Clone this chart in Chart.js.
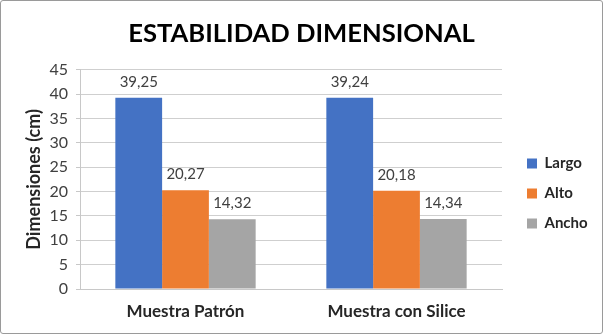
<!DOCTYPE html>
<html><head><meta charset="utf-8">
<script src="https://cdn.jsdelivr.net/npm/chart.js@4/dist/chart.umd.min.js"></script>
<style>
html,body{margin:0;padding:0;background:#fff;}
#wrap{position:relative;width:603px;height:334px;}
#frame{position:absolute;left:0;top:0;width:603px;height:334px;box-sizing:border-box;border:1px solid #9a9a9a;border-radius:3px;pointer-events:none;}
canvas{display:block;}
</style></head><body>
<div id="wrap"><canvas id="c" width="603" height="334"></canvas><div id="frame"></div></div>
<script>
const categories = ['Muestra Patrón', 'Muestra con Silice'];
const seriesNames = ['Largo', 'Alto', 'Ancho'];
const largo = [39.25, 39.24];
const alto = [20.27, 20.18];
const ancho = [14.32, 14.34];
const seriesColors = ['#4472C4', '#ED7D31', '#A5A5A5'];
const yMin = 0, yMax = 45, yStep = 5;

const FONT = 'Lato, "Open Sans", sans-serif';

const valueLabels = {
  id: 'valueLabels',
  afterDatasetsDraw(chart) {
    const ctx = chart.ctx;
    ctx.save();
    ctx.font = '15px ' + FONT;
    ctx.fillStyle = '#404040';
    ctx.textAlign = 'center';
    ctx.textBaseline = 'middle';
    chart.data.datasets.forEach((ds, i) => {
      const meta = chart.getDatasetMeta(i);
      meta.data.forEach((bar, j) => {
        const txt = ds.data[j].toFixed(2).replace('.', ',');
        ctx.fillText(txt, bar.x, bar.y - 16);
      });
    });
    ctx.restore();
  }
};

const boxPlace = {
  id: 'boxPlace',
  afterLayout(chart) {
    const lg = chart.legend;
    if (lg) {
      lg.left = 512; lg.right = 603; lg.width = 91;
      lg.top = 141; lg.bottom = 334; lg.height = 193;
    }
    const tb = chart.titleBlock;
    if (tb) {
      tb.left = 0; tb.right = 603; tb.width = 603;
    }
  }
};

new Chart(document.getElementById('c'), {
  type: 'bar',
  data: {
    labels: categories,
    datasets: [
      { label: seriesNames[0], data: largo, backgroundColor: seriesColors[0] },
      { label: seriesNames[1], data: alto, backgroundColor: seriesColors[1] },
      { label: seriesNames[2], data: ancho, backgroundColor: seriesColors[2] }
    ]
  },
  options: {
    responsive: false,
    animation: false,
    devicePixelRatio: 1,
    layout: { padding: { left: 18, right: 101, top: 0, bottom: 0 } },
    datasets: { bar: { categoryPercentage: 0.665, barPercentage: 1 } },
    plugins: {
      title: {
        display: true,
        text: 'ESTABILIDAD DIMENSIONAL',
        color: '#000',
        font: { family: FONT, size: 25.6, weight: 'bold', lineHeight: 1.2 },
        padding: { top: 18, bottom: 21 }
      },
      legend: {
        position: 'chartArea',
        align: 'start',
        labels: {
          boxWidth: 10, boxHeight: 10, padding: 15,
          color: '#262626',
          font: { family: FONT, size: 15, weight: 'bold' }
        }
      },
      tooltip: { enabled: false }
    },
    scales: {
      x: {
        grid: { display: false, drawTicks: false },
        border: { display: true, color: '#c8c8c8' },
        ticks: { color: '#262626', padding: 12, font: { family: FONT, size: 17, weight: 'bold' } },
        afterFit(scale) { scale.height = 45; }
      },
      y: {
        min: yMin, max: yMax,
        ticks: { stepSize: yStep, color: '#404040', padding: 8, font: { family: FONT, size: 16 } },
        grid: { color: '#cfcfcf', tickLength: 4, tickColor: '#c8c8c8' },
        border: { display: true, color: '#c8c8c8' },
        title: {
          display: true, text: 'Dimensiones (cm)', color: '#262626',
          font: { family: FONT, size: 18, weight: 'bold', lineHeight: 1.2 },
          padding: { top: 5, bottom: 0 }
        },
        afterFit(scale) { scale.width = 62; }
      }
    }
  },
  plugins: [valueLabels, boxPlace]
});
</script>
</body></html>
